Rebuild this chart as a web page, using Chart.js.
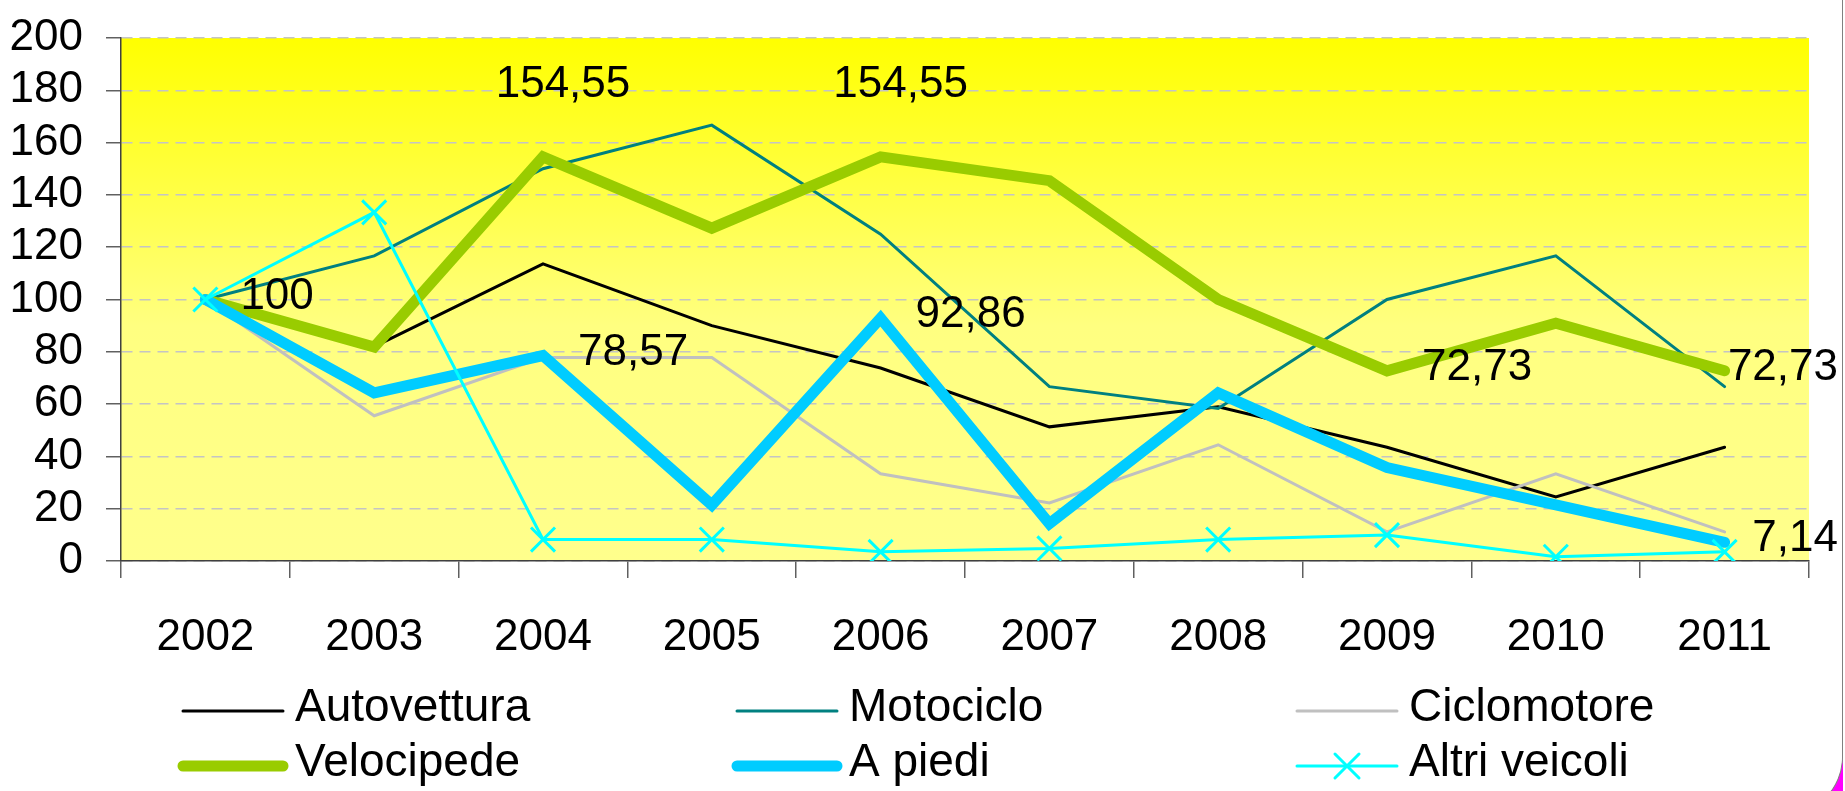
<!DOCTYPE html>
<html>
<head>
<meta charset="utf-8">
<script src="https://cdn.jsdelivr.net/npm/chart.js@4/dist/chart.umd.min.js"></script>
<style>
  html, body { margin: 0; padding: 0; background: #fff; overflow: hidden; }
  #angolo { position: absolute; left: 1790px; top: 760px; width: 53px; height: 31px; background: #FF00FF; z-index: 0; }
  #cornice { position: absolute; left: 0; top: 0; width: 1842px; height: 814px; background: #fff;
             border-right: 1px solid #808080; border-bottom: 1px solid #808080;
             border-bottom-right-radius: 58px; z-index: 1; }
  #wrap { position: absolute; left: 0; top: 0; width: 1845px; height: 791px; z-index: 2; }
</style>
</head>
<body>
<div id="angolo"></div>
<div id="cornice"></div>
<div id="wrap"><canvas id="grafico" width="1845" height="791"></canvas></div>
<script>
const anni = ["2002", "2003", "2004", "2005", "2006", "2007", "2008", "2009", "2010", "2011"];

const autovettura = [100, 82, 113.6, 90, 73.8, 51.3, 59, 43.5, 24.5, 43.5];
const motociclo = [100, 116.67, 150, 166.67, 125, 66.67, 58.33, 100, 116.67, 66.67];
const ciclomotore = [100, 55.56, 77.78, 77.78, 33.33, 22.22, 44.44, 11.11, 33.33, 11.11];
const velocipede = [100, 81.82, 154.55, 127.27, 154.55, 145.45, 100, 72.73, 90.91, 72.73];
const aPiedi = [100, 64.29, 78.57, 21.43, 92.86, 14.29, 64.29, 35.71, 21.43, 7.14];
const altriVeicoli = [100, 133.33, 8.2, 8.2, 3.5, 4.8, 8.2, 9.9, 1.6, 3.5];

const tickY = [0, 20, 40, 60, 80, 100, 120, 140, 160, 180, 200];

// etichette dei valori: serie (indice dataset), anno, posizione
const etichette = [
    { serie: 3, anno: "2002", pos: "destra" },
    { serie: 3, anno: "2004", pos: "sopra" },
    { serie: 3, anno: "2006", pos: "sopra" },
    { serie: 4, anno: "2004", pos: "destra" },
    { serie: 4, anno: "2006", pos: "destra" },
    { serie: 3, anno: "2009", pos: "destra" },
    { serie: 3, anno: "2011", pos: "destra" },
    { serie: 4, anno: "2011", pos: "destra" }
];

const FONT = '"Liberation Sans", Arial, sans-serif';

function formatta(v) {
    return Number.isInteger(v) ? String(v) : v.toFixed(2).replace(".", ",");
}

const sfondo = {
    id: "sfondo",
    beforeDraw(chart) {
        const { ctx, chartArea: a } = chart;
        const g = ctx.createLinearGradient(0, a.top, 0, a.bottom);
        g.addColorStop(0, "#FFFF00");
        g.addColorStop(0.55, "#FFFF80");
        g.addColorStop(1, "#FFFF8C");
        ctx.save();
        ctx.fillStyle = g;
        ctx.fillRect(a.left, a.top, a.right - a.left, a.bottom - a.top);
        ctx.restore();
    }
};

const valori = {
    id: "valori",
    afterDatasetsDraw(chart) {
        const ctx = chart.ctx;
        ctx.save();
        ctx.font = "44px " + FONT;
        ctx.fillStyle = "#000";
        ctx.textBaseline = "middle";
        ctx.textAlign = "left";
        etichette.forEach(e => {
            const i = anni.indexOf(e.anno);
            const ds = chart.data.datasets[e.serie];
            const p = chart.getDatasetMeta(e.serie).data[i];
            const testo = formatta(ds.data[i]);
            const w = ctx.measureText(testo).width;
            let x, y;
            if (e.pos === "sopra") {
                x = p.x + 20 - w / 2;
                y = p.y - 72;
            } else {
                x = p.x + 35;
                y = p.y - 3;
            }
            if (x + w > chart.width - 7) x = chart.width - 7 - w;
            ctx.fillText(testo, x, y);
        });
        ctx.restore();
    }
};

// legenda a tre colonne disegnata sul canvas
const colonne = [183, 737, 1297];
const righe = [711, 766];
const legenda = {
    id: "legenda",
    afterDraw(chart) {
        const ctx = chart.ctx;
        ctx.save();
        ctx.font = "46px " + FONT;
        ctx.textBaseline = "middle";
        ctx.textAlign = "left";
        chart.data.datasets.forEach((ds, k) => {
            const x0 = colonne[k % 3];
            const y0 = righe[Math.floor(k / 3)];
            const x1 = x0 + 100;
            ctx.strokeStyle = ds.borderColor;
            ctx.lineWidth = ds.borderWidth;
            ctx.lineCap = "round";
            ctx.beginPath();
            ctx.moveTo(x0, y0);
            ctx.lineTo(x1, y0);
            ctx.stroke();
            if (ds.pointRadius > 0) {
                Chart.helpers.drawPoint(ctx, {
                    pointStyle: ds.pointStyle, rotation: 0, radius: ds.pointRadius, borderWidth: ds.pointBorderWidth
                }, (x0 + x1) / 2, y0);
            }
            ctx.fillStyle = "#000";
            ctx.fillText(ds.label, x1 + 12, y0 - 3);
        });
        ctx.restore();
    }
};

function serie(label, data, colore, spessore) {
    return {
        label: label,
        data: data,
        borderColor: colore,
        backgroundColor: colore,
        borderWidth: spessore,
        pointRadius: 0,
        pointHoverRadius: 0,
        tension: 0,
        borderCapStyle: "round",
        borderJoinStyle: "miter",
        fill: false
    };
}

const datasets = [
    serie("Autovettura", autovettura, "#000000", 3),
    serie("Motociclo", motociclo, "#008080", 3),
    serie("Ciclomotore", ciclomotore, "#C0C0C0", 3),
    serie("Velocipede", velocipede, "#99CC00", 11),
    serie("A piedi", aPiedi, "#00CCFF", 11),
    Object.assign(serie("Altri veicoli", altriVeicoli, "#00FFFF", 3), {
        pointRadius: 17, pointStyle: "crossRot", pointBorderWidth: 3, pointBorderColor: "#00FFFF"
    })
];
// serie successive disegnate sopra
datasets.forEach((d, i) => { d.order = datasets.length - i; });

const ctx = document.getElementById("grafico").getContext("2d");
const grafico = new Chart(ctx, {
    type: "line",
    data: { labels: anni, datasets: datasets },
    plugins: [sfondo, valori, legenda],
    options: {
        responsive: false,
        animation: false,
        events: [],
        layout: { padding: { left: 0, right: 36, top: 38, bottom: 130 } },
        plugins: { legend: { display: false }, tooltip: { enabled: false } },
        scales: {
            x: {
                offset: true,
                grid: {
                    offset: true,
                    drawOnChartArea: false,
                    tickLength: 17,
                    tickColor: "#606060",
                    lineWidth: 1.5
                },
                border: { color: "#404040", width: 1.5 },
                ticks: { color: "#000", font: { family: FONT, size: 44 }, padding: 33, maxRotation: 0 },
                afterFit(s) { s.height = 100; }
            },
            y: {
                min: 0,
                max: 200,
                afterBuildTicks(s) { s.ticks = tickY.map(v => ({ value: v })); },
                grid: {
                    color: "#C4C4C4",
                    lineWidth: 1.5,
                    tickBorderDash: [],
                    tickLength: 15,
                    tickColor: "#606060"
                },
                border: { color: "#404040", width: 1.5, dash: [11, 7] },
                ticks: { color: "#000", font: { family: FONT, size: 44, lineHeight: 0.6 }, padding: 23, autoSkip: false },
                afterFit(s) { s.width = 121; }
            }
        }
    }
});
</script>
</body>
</html>
